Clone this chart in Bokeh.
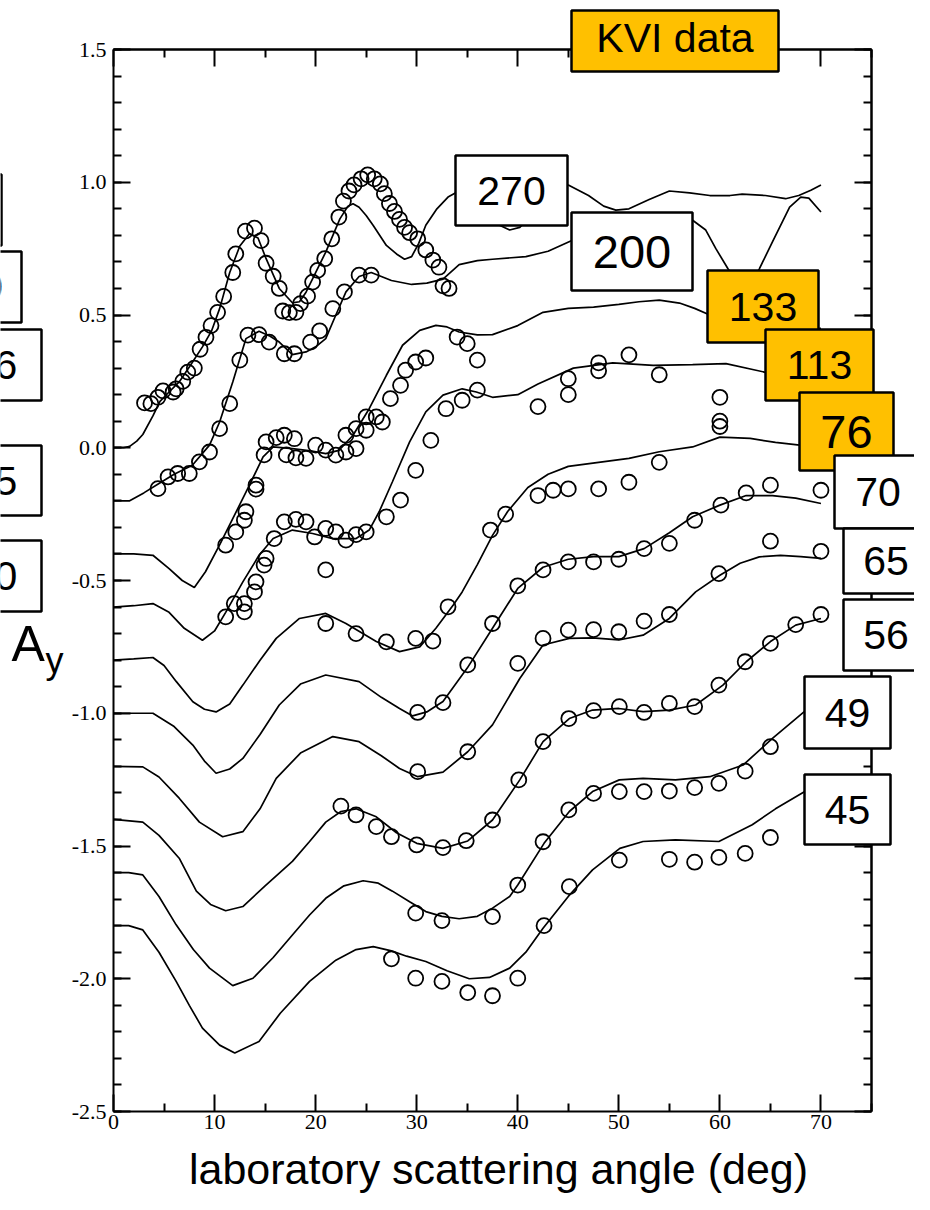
from bokeh.plotting import figure
from bokeh.models import (FixedTicker, LinearAxis, PrintfTickFormatter, Label,
                          BoxAnnotation, Range1d)
from bokeh.embed import file_html
from bokeh.resources import INLINE

# ---------------- data: calculated curves (A_y, offset for display) ----------------
curve_270_x = [0, 1.0, 1.6, 2.3, 2.9, 3.9, 4.6, 5.5, 6.5, 7.6, 8.8, 9.7, 10.5, 11.5, 12.5, 13.45, 14.3, 15.1, 16.4, 17.7, 18.4, 19.05, 20.0, 21.0, 22.4, 23.2, 23.7, 24.3, 25.0, 25.7, 27.0, 28.0, 28.8, 29.5, 30.2, 30.9, 32.0, 33.1, 34.0, 35.0, 36.5, 38.2, 39.2, 40.2, 42.0, 43.5, 45.0, 47.0, 48.5, 49.7, 51.0, 53.0, 55.0, 57.0, 59.0, 61.0, 62.2, 64.5, 66.5, 67.8, 69.0, 70.0]
curve_270_y = [0, 0.0, 0.005, 0.025, 0.05, 0.12, 0.175, 0.21, 0.248, 0.31, 0.38, 0.44, 0.524, 0.66, 0.76, 0.806, 0.79, 0.712, 0.6, 0.546, 0.55, 0.586, 0.66, 0.737, 0.862, 0.91, 0.919, 0.906, 0.875, 0.837, 0.762, 0.73, 0.71, 0.72, 0.77, 0.838, 0.9, 0.944, 0.963, 0.97, 0.93, 0.838, 0.82, 0.83, 0.9, 0.96, 0.99, 0.95, 0.91, 0.895, 0.9, 0.935, 0.967, 0.96, 0.95, 0.95, 0.955, 0.95, 0.938, 0.95, 0.97, 0.99]

curve_200_x = [0, 1.6, 3.0, 4.5, 6.0, 7.8, 9.5, 10.5, 11.8, 13.1, 14.4, 15.5, 16.4, 17.7, 19.05, 20.0, 21.0, 22.0, 23.0, 24.3, 25.5, 27.5, 29.5, 31.0, 32.6, 34.2, 36.0, 37.5, 40.8, 43.0, 45.3, 48.0, 51.0, 54.0, 57.3, 58.6, 59.6, 60.8, 62.5, 63.9, 65.2, 66.9, 68.0, 68.8, 70.0]
curve_200_y = [-0.2, -0.2, -0.17, -0.135, -0.1, -0.066, 0.01, 0.097, 0.248, 0.411, 0.439, 0.42, 0.398, 0.351, 0.361, 0.38, 0.411, 0.5, 0.587, 0.645, 0.66, 0.63, 0.615, 0.62, 0.635, 0.69, 0.705, 0.71, 0.72, 0.74, 0.78, 0.80, 0.83, 0.85, 0.857, 0.82, 0.75, 0.674, 0.58, 0.674, 0.775, 0.906, 0.944, 0.94, 0.888]

curve_133_x = [0, 2.0, 3.9, 5.5, 6.8, 8.0, 9.1, 10.5, 11.8, 13.45, 14.8, 15.8, 17.7, 19.5, 21.0, 22.3, 23.7, 25.3, 27.0, 28.6, 30.3, 31.9, 33.0, 34.2, 36.0, 37.5, 40.0, 42.5, 45.0, 47.5, 50.0, 52.0, 54.0, 56.0, 57.5, 59.0, 62.0, 66.0, 70.0]
curve_133_y = [-0.4, -0.4, -0.405, -0.455, -0.5, -0.526, -0.467, -0.366, -0.267, -0.141, -0.034, 0.003, -0.003, -0.012, -0.022, -0.01, 0.047, 0.147, 0.273, 0.386, 0.442, 0.461, 0.455, 0.436, 0.425, 0.426, 0.46, 0.51, 0.525, 0.53, 0.54, 0.55, 0.556, 0.545, 0.525, 0.5, 0.46, 0.44, 0.45]

curve_113_x = [0, 2.0, 3.9, 5.5, 7.0, 8.8, 10.0, 11.1, 12.8, 14.4, 15.8, 17.7, 19.7, 21.7, 24.0, 25.3, 26.3, 27.6, 29.3, 30.9, 32.6, 34.5, 35.9, 37.5, 40.0, 42.0, 45.5, 49.4, 53.4, 57.3, 60.6, 64.4, 67.0, 70.0]
curve_113_y = [-0.6, -0.595, -0.587, -0.62, -0.68, -0.725, -0.69, -0.62, -0.505, -0.405, -0.342, -0.31, -0.323, -0.342, -0.342, -0.31, -0.24, -0.128, 0.022, 0.135, 0.198, 0.222, 0.21, 0.19, 0.2, 0.24, 0.30, 0.32, 0.31, 0.313, 0.317, 0.285, 0.27, 0.26]

curve_76_x = [0, 2.0, 3.9, 5.0, 6.2, 7.85, 9.0, 10.15, 11.5, 12.8, 14.5, 16.1, 18.4, 21.0, 23.0, 26.0, 28.3, 30.3, 31.9, 33.6, 34.5, 36.0, 37.5, 39.0, 41.0, 43.0, 45.0, 48.0, 51.0, 54.0, 57.3, 60.0, 63.0, 65.5, 67.9, 70.0]
curve_76_y = [-0.8, -0.795, -0.79, -0.82, -0.88, -0.957, -0.985, -0.995, -0.965, -0.894, -0.8, -0.718, -0.643, -0.624, -0.662, -0.73, -0.768, -0.75, -0.68, -0.593, -0.543, -0.44, -0.33, -0.24, -0.15, -0.1, -0.07, -0.055, -0.04, -0.015, 0.003, 0.04, 0.035, 0.02, 0.01, 0.0]

curve_70_x = [0, 2.0, 3.9, 6.0, 7.85, 9.0, 10.15, 11.5, 12.8, 14.5, 16.4, 18.5, 21.0, 24.3, 26.5, 28.3, 29.6, 31.0, 32.6, 35.0, 37.5, 40.0, 42.5, 45.0, 47.5, 50.0, 52.5, 55.0, 57.3, 60.0, 62.6, 65.2, 67.5, 70.0]
curve_70_y = [-1.0, -1.0, -1.0, -1.05, -1.12, -1.18, -1.226, -1.21, -1.17, -1.08, -0.969, -0.89, -0.856, -0.881, -0.94, -0.982, -1.01, -0.995, -0.956, -0.83, -0.68, -0.53, -0.45, -0.42, -0.41, -0.41, -0.38, -0.32, -0.26, -0.216, -0.18, -0.18, -0.19, -0.21]

curve_65_x = [0, 2.9, 4.5, 6.5, 8.5, 10.8, 12.8, 14.5, 16.1, 18.5, 21.7, 24.3, 26.5, 28.3, 30.1, 32.6, 35.05, 37.5, 40.2, 42.5, 45.1, 47.4, 50.0, 52.4, 55.0, 57.6, 60.0, 62.0, 63.9, 66.0, 68.0, 70.0]
curve_65_y = [-1.2, -1.202, -1.24, -1.32, -1.41, -1.465, -1.446, -1.36, -1.245, -1.15, -1.088, -1.107, -1.16, -1.208, -1.239, -1.222, -1.145, -1.044, -0.869, -0.743, -0.718, -0.716, -0.724, -0.706, -0.643, -0.543, -0.48, -0.435, -0.411, -0.405, -0.41, -0.417]

curve_56_x = [0, 2.9, 4.5, 6.5, 8.2, 9.6, 11.1, 12.8, 15.0, 17.7, 19.4, 21.0, 22.5, 24.0, 26.0, 28.0, 30.0, 32.6, 35.05, 37.5, 40.2, 42.5, 45.1, 47.4, 50.0, 52.4, 55.0, 57.6, 60.3, 62.6, 65.0, 67.5, 70.0]
curve_56_y = [-1.4, -1.41, -1.46, -1.546, -1.67, -1.72, -1.744, -1.728, -1.65, -1.558, -1.483, -1.41, -1.37, -1.36, -1.39, -1.45, -1.49, -1.509, -1.481, -1.402, -1.251, -1.107, -1.02, -0.988, -0.982, -0.994, -0.988, -0.969, -0.894, -0.806, -0.73, -0.668, -0.643]

curve_49_x = [0, 1.5, 2.9, 4.5, 6.2, 7.9, 9.5, 11.8, 13.8, 15.8, 17.7, 19.4, 21.0, 22.8, 24.7, 26.2, 27.6, 29.3, 30.9, 32.5, 34.2, 36.0, 37.5, 39.2, 40.0, 42.6, 45.1, 47.4, 50.05, 52.4, 55.6, 59.0, 62.3, 65.2, 68.35, 70.0]
curve_49_y = [-1.6, -1.6, -1.609, -1.69, -1.797, -1.89, -1.96, -2.026, -1.998, -1.92, -1.835, -1.76, -1.697, -1.65, -1.631, -1.64, -1.67, -1.71, -1.747, -1.765, -1.774, -1.765, -1.734, -1.69, -1.647, -1.49, -1.37, -1.295, -1.251, -1.245, -1.251, -1.239, -1.195, -1.095, -0.994, -0.93]

curve_45_x = [0, 1.5, 2.9, 4.5, 6.2, 7.5, 8.8, 10.5, 12.0, 14.4, 16.5, 19.4, 22.0, 24.0, 25.7, 27.5, 29.0, 30.9, 33.0, 35.2, 37.2, 39.2, 40.8, 42.5, 45.0, 47.4, 50.1, 52.4, 55.6, 59.9, 63.2, 65.5, 68.4, 70.0]
curve_45_y = [-1.8, -1.8, -1.816, -1.9, -2.01, -2.1, -2.186, -2.25, -2.28, -2.236, -2.13, -2.01, -1.93, -1.89, -1.879, -1.895, -1.915, -1.935, -1.97, -2.0, -1.995, -1.96, -1.9, -1.81, -1.69, -1.59, -1.509, -1.483, -1.477, -1.483, -1.42, -1.36, -1.295, -1.25]

# ---------------- data: measurements (open circles) ----------------
data_270_x = [3.07, 3.7, 4.4, 4.9, 5.9, 6.2, 6.85, 7.35, 8.0, 8.57, 9.15, 9.65, 10.3, 10.9, 11.8, 12.1, 13.05, 13.95, 14.6, 15.1, 15.8, 16.4, 16.75, 17.4, 18.05, 18.5, 19.2, 19.7, 20.2, 20.9, 21.6, 22.3, 22.75, 23.3, 23.8, 24.5, 25.15, 25.8, 26.4, 26.8, 27.3, 27.8, 28.3, 28.8, 29.3, 30.1, 30.9, 31.6, 32.2]
data_270_y = [0.169, 0.166, 0.19, 0.214, 0.21, 0.222, 0.25, 0.285, 0.30, 0.371, 0.416, 0.46, 0.51, 0.57, 0.66, 0.73, 0.816, 0.827, 0.78, 0.695, 0.646, 0.6, 0.515, 0.509, 0.51, 0.543, 0.571, 0.624, 0.668, 0.712, 0.787, 0.869, 0.929, 0.967, 0.99, 1.013, 1.028, 1.013, 0.994, 0.957, 0.92, 0.89, 0.86, 0.83, 0.81, 0.787, 0.745, 0.707, 0.68]

data_200_x = [4.4, 5.4, 6.35, 7.5, 8.5, 9.5, 10.5, 11.5, 12.5, 13.3, 14.4, 15.4, 16.9, 17.9, 19.5, 20.4, 21.7, 22.85, 24.3, 25.5, 32.6, 33.2]
data_200_y = [-0.154, -0.11, -0.097, -0.097, -0.053, -0.016, 0.072, 0.166, 0.33, 0.424, 0.426, 0.398, 0.354, 0.354, 0.398, 0.44, 0.524, 0.587, 0.65, 0.65, 0.61, 0.6]

data_133_x = [11.1, 12.1, 12.95, 13.1, 14.1, 14.1, 14.9, 15.1, 16.1, 16.9, 17.1, 17.9, 18.05, 19.05, 20.0, 21.0, 22.0, 23.0, 23.0, 24.0, 24.0, 25.0, 25.0, 26.0, 26.6, 27.4, 28.4, 28.9, 29.9, 30.9, 34.0, 35.0, 36.0]
data_133_y = [-0.367, -0.317, -0.273, -0.241, -0.141, -0.156, -0.027, 0.022, 0.038, 0.047, -0.027, 0.034, -0.038, -0.04, 0.01, -0.009, -0.028, -0.016, 0.047, -0.003, 0.072, 0.066, 0.116, 0.116, 0.097, 0.185, 0.235, 0.292, 0.323, 0.338, 0.417, 0.392, 0.33]

data_113_x = [11.1, 11.95, 12.95, 12.95, 13.95, 14.1, 14.9, 15.1, 15.9, 16.9, 18.05, 19.05, 19.9, 21.0, 22.0, 23.0, 24.0, 25.0, 21.0, 27.0, 28.4, 29.9, 31.4, 32.9, 34.5, 36.0, 42.0, 45.0, 45.0, 48.0, 48.0, 51.0, 54.0, 60.0]
data_113_y = [-0.637, -0.587, -0.587, -0.618, -0.543, -0.505, -0.442, -0.417, -0.342, -0.279, -0.27, -0.279, -0.336, -0.304, -0.317, -0.348, -0.327, -0.317, -0.46, -0.26, -0.197, -0.085, 0.028, 0.147, 0.179, 0.217, 0.155, 0.26, 0.2, 0.32, 0.29, 0.35, 0.275, 0.19]

data_76_x = [21.0, 24.0, 27.0, 29.9, 31.6, 33.1, 37.3, 38.8, 42.0, 43.5, 45.0, 48.0, 51.0, 54.0, 60.0, 60.0]
data_76_y = [-0.662, -0.7, -0.731, -0.718, -0.728, -0.599, -0.31, -0.25, -0.18, -0.16, -0.155, -0.155, -0.13, -0.055, 0.1, 0.08]

data_70_x = [30.1, 32.6, 35.05, 37.5, 40.0, 42.5, 45.0, 47.5, 50.0, 52.5, 55.0, 57.5, 60.1, 62.6, 65.0, 70.0]
data_70_y = [-0.997, -0.96, -0.818, -0.662, -0.52, -0.46, -0.43, -0.43, -0.42, -0.38, -0.36, -0.273, -0.216, -0.17, -0.141, -0.16]

data_65_x = [30.1, 35.05, 40.0, 42.5, 45.0, 47.5, 50.0, 52.5, 55.0, 59.9, 65.0, 70.0]
data_65_y = [-1.22, -1.145, -0.812, -0.718, -0.687, -0.685, -0.693, -0.653, -0.628, -0.474, -0.352, -0.39]

data_56_x = [22.5, 24.0, 26.0, 27.5, 30.0, 32.6, 34.9, 37.5, 40.1, 42.5, 45.05, 47.5, 50.05, 52.5, 55.0, 57.5, 59.9, 62.5, 65.0, 67.5, 70.0]
data_56_y = [-1.35, -1.383, -1.427, -1.465, -1.496, -1.506, -1.48, -1.402, -1.251, -1.107, -1.02, -0.99, -0.975, -0.997, -0.963, -0.975, -0.894, -0.806, -0.737, -0.666, -0.628]

data_49_x = [29.9, 32.5, 37.5, 40.0, 42.5, 45.05, 47.5, 50.05, 52.5, 55.0, 57.5, 59.9, 62.5, 65.0]
data_49_y = [-1.753, -1.781, -1.766, -1.647, -1.484, -1.364, -1.302, -1.295, -1.295, -1.293, -1.28, -1.264, -1.218, -1.126]

data_45_x = [27.5, 29.9, 32.5, 35.05, 37.5, 40.0, 42.6, 45.1, 50.05, 55.0, 57.5, 59.9, 62.5, 65.0]
data_45_y = [-1.925, -1.998, -2.01, -2.052, -2.064, -1.998, -1.80, -1.653, -1.553, -1.55, -1.561, -1.543, -1.528, -1.468]

# ---------------- tick values and texts ----------------
x_major_ticks = [0, 10, 20, 30, 40, 50, 60, 70]
y_major_ticks = [-2.5, -2.0, -1.5, -1.0, -0.5, 0.0, 0.5, 1.0, 1.5]
x_label_text = "laboratory scattering angle (deg)"
y_label_main = "A"
y_label_sub = "y"

curves = [
    (curve_270_x, curve_270_y), (curve_200_x, curve_200_y), (curve_133_x, curve_133_y),
    (curve_113_x, curve_113_y), (curve_76_x, curve_76_y), (curve_70_x, curve_70_y),
    (curve_65_x, curve_65_y), (curve_56_x, curve_56_y), (curve_49_x, curve_49_y),
    (curve_45_x, curve_45_y),
]
datasets = [
    (data_270_x, data_270_y), (data_200_x, data_200_y), (data_133_x, data_133_y),
    (data_113_x, data_113_y), (data_76_x, data_76_y), (data_70_x, data_70_y),
    (data_65_x, data_65_y), (data_56_x, data_56_y), (data_49_x, data_49_y),
    (data_45_x, data_45_y),
]

ORANGE = "#FFC000"

# ---------------- geometry (layout only) ----------------
W, H = 914, 1194                 # canvas
FL, FR, FT, FB = 113, 871, 49, 1111   # where the data box sits on the canvas
X0, X1, Y0, Y1 = 0, 75, -2.5, 1.5
KX = (FR - FL) / (X1 - X0)
KY = (FB - FT) / (Y1 - Y0)
x_start, x_end = X0 - FL / KX, X1 + (W - FR) / KX
y_start, y_end = Y0 - (H - FB) / KY, Y1 + FT / KY

p = figure(width=W, height=H, min_border=0,
           x_range=Range1d(x_start, x_end), y_range=Range1d(y_start, y_end),
           x_axis_location=None, y_axis_location=None,
           output_backend="svg", toolbar_location=None)
p.outline_line_color = None
p.background_fill_color = "white"
p.border_fill_color = "white"
p.grid.visible = False

PAGE = 8
def sx(px):   # page-image pixel -> data x (for annotation placement)
    return X0 + (px - PAGE - FL) / KX
def sy(py):
    return Y1 - (py - PAGE - FT) / KY

x_minor = [v + 5 for v in x_major_ticks]
y_minor = [round(-2.5 + 0.1 * i, 1) for i in range(41)]

def base_style(ax):
    ax.axis_line_color = "black"
    ax.axis_line_width = 2
    ax.major_tick_out = 0
    ax.minor_tick_out = 0
    ax.major_tick_in = 17
    ax.minor_tick_in = 8
    ax.major_tick_line_width = 2
    ax.minor_tick_line_width = 2
    ax.major_tick_line_color = "black"
    ax.minor_tick_line_color = "black"
    ax.major_label_text_font = "Liberation Serif"
    ax.major_label_text_font_size = "22px"
    ax.major_label_text_color = "black"

# bottom axis with labels
xb = LinearAxis(fixed_location=Y0, bounds=(X0, X1),
                ticker=FixedTicker(ticks=x_major_ticks, minor_ticks=x_minor),
                formatter=PrintfTickFormatter(format="%d"))
base_style(xb)
xb.major_label_standoff = 3
p.add_layout(xb, "below")

# left axis with labels
yl = LinearAxis(fixed_location=X0, bounds=(Y0, Y1),
                ticker=FixedTicker(ticks=y_major_ticks, minor_ticks=y_minor),
                formatter=PrintfTickFormatter(format="%.1f"))
base_style(yl)
yl.major_label_standoff = 7
p.add_layout(yl, "left")

# mirrored top / right axes: ticks only (long and short ticks as two tick sets)
for loc, side, bnds, majors, minors in [
        (Y1, "above", (X0, X1), x_major_ticks, x_minor),
        (X1, "right", (Y0, Y1), y_major_ticks, y_minor)]:
    for tick_list, length in [(majors, 17), (minors, 8)]:
        ax = LinearAxis(fixed_location=loc, bounds=bnds,
                        ticker=FixedTicker(ticks=[], minor_ticks=tick_list))
        base_style(ax)
        ax.minor_tick_in = length
        p.add_layout(ax, side)

# curves and data
for cx, cy in curves:
    p.line(cx, cy, line_color="black", line_width=1.7)
for dx, dy in datasets:
    p.scatter(dx, dy, marker="circle", size=15, line_color="black",
              line_width=1.8, fill_color=None)

# ---------------- labelled boxes ----------------
# (text, left, right, top, bottom, fill, font px, text middle y, text centre x) in page pixels
boxes = [
    ("KVI data", 579, 786, 18, 79, ORANGE, 41, 45, None),
    ("270", 463, 575, 163, 233, "white", 41, None, None),
    ("200", 579, 700, 220, 298, "white", 47, None, None),
    ("133", 715, 826, 278, 350, ORANGE, 41, None, None),
    ("113", 773, 881, 337, 408, ORANGE, 41, None, None),
    ("76", 807, 901, 400, 478, ORANGE, 47, None, None),
    ("70", 842, 929, 463, 536, "white", 41, None, None),
    ("65", 851, 936, 536, 601, "white", 41, None, None),
    ("56", 851, 936, 607, 678, "white", 41, None, None),
    ("49", 812, 898, 684, 756, "white", 41, None, None),
    ("45", 812, 898, 782, 852, "white", 41, None, None),
    ("45", -78, 9, 182, 253, "white", 41, None, -36),
    ("49", -58, 29, 259, 330, "white", 41, None, -12),
    ("56", -38, 49, 337, 408, "white", 41, None, 2),
    ("65", -38, 49, 453, 523, "white", 41, None, 2),
    ("70", -38, 49, 548, 619, "white", 41, None, 2),
]
for text, l, r, t, b, fill, fs, mid, cxp in boxes:
    p.add_layout(BoxAnnotation(left=sx(l), right=sx(r), top=sy(t), bottom=sy(b),
                               fill_color=fill, fill_alpha=1.0,
                               line_color="black", line_alpha=1.0, line_width=2.5,
                               level="annotation"))
    if mid is None:
        mid = (t + b) / 2
    if cxp is None:
        cxp = (l + r) / 2
    p.add_layout(Label(x=sx(cxp), y=sy(mid), text=text,
                       text_font="Liberation Sans", text_font_size=f"{fs}px",
                       text_align="center", text_baseline="middle",
                       text_color="black", level="annotation"))

# axis titles
p.add_layout(Label(x=sx(506), y=sy(1176), text=x_label_text,
                   text_font="Liberation Sans", text_font_size="43px",
                   text_align="center", text_baseline="middle", text_color="black"))
p.add_layout(Label(x=sx(19), y=sy(651), text=y_label_main,
                   text_font="Liberation Sans", text_font_size="50px",
                   text_align="left", text_baseline="middle", text_color="black"))
p.add_layout(Label(x=sx(53), y=sy(668), text=y_label_sub,
                   text_font="Liberation Sans", text_font_size="36px",
                   text_align="left", text_baseline="middle", text_color="black"))

open("out.html", "w").write(file_html(p, INLINE))
